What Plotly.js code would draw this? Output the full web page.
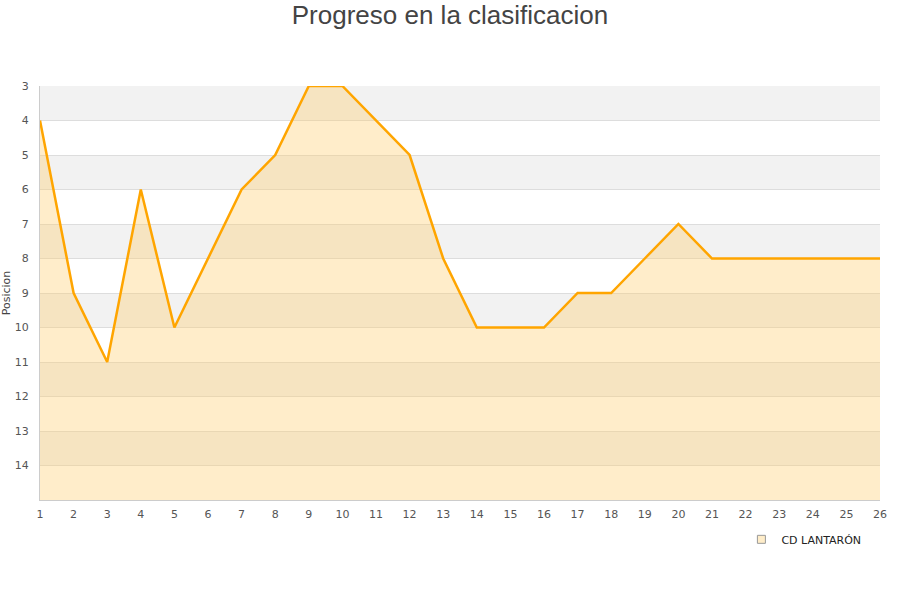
<!DOCTYPE html>
<html>
<head>
<meta charset="utf-8">
<script src="https://cdn.plot.ly/plotly-3.0.1.min.js"></script>
<style>body{margin:0;background:#fff}#chart{width:900px;height:600px}</style>
</head>
<body>
<div id="chart"></div>
<script>
const jornadas = [1,2,3,4,5,6,7,8,9,10,11,12,13,14,15,16,17,18,19,20,21,22,23,24,25,26];
const posicion = [4,9,11,6,10,8,6,5,3,3,4,5,8,10,10,10,9,9,8,7,8,8,8,8,8,8];
const equipo = 'CD LANTARÓN';
const yTicks = [3,4,5,6,7,8,9,10,11,12,13,14];
const yMin = 3, yMax = 15;

const base = {x: jornadas, y: jornadas.map(() => yMax), mode: 'lines', line: {width: 0}, hoverinfo: 'skip', showlegend: false};
const area = {x: jornadas, y: posicion, mode: 'lines', fill: 'tonexty', fillcolor: 'rgba(255,204,102,0.35)',
  line: {color: '#FFA500', width: 2.5}, showlegend: false, name: equipo};
const leg = {x: [null], y: [null], mode: 'markers', name: equipo,
  marker: {symbol: 'square', size: 8, color: '#FFEDC9', line: {color: '#999', width: 1}}};

const shapes = [];
for (let v = yMin; v < yMax; v += 2) {
  shapes.push({type: 'rect', xref: 'paper', yref: 'y', x0: 0, x1: 1, y0: v, y1: v + 1,
    fillcolor: '#F2F2F2', line: {width: 0}, layer: 'below'});
}

Plotly.newPlot('chart', [base, area, leg], {
  width: 900, height: 600,
  margin: {l: 40, r: 20, t: 86, b: 100},
  paper_bgcolor: '#fff', plot_bgcolor: '#fff',
  title: {text: 'Progreso en la clasificacion', x: 0.5, y: 0.99, yanchor: 'top',
    font: {family: 'Liberation Sans, Arial, sans-serif', size: 26, color: '#444'}},
  font: {family: 'DejaVu Sans, sans-serif', size: 11, color: '#555'},
  xaxis: {range: [1, 26], tickvals: jornadas, showgrid: false, zeroline: false,
    showline: true, linecolor: '#ccc', ticks: '', ticklen: 0, ticklabelstandoff: 4},
  yaxis: {range: [yMax, yMin], tickvals: yTicks, showgrid: true, gridcolor: '#ddd', zeroline: false,
    showline: true, linecolor: '#ccc', ticks: '', ticklabelstandoff: 8,
    title: {text: 'Posicion', font: {size: 11, color: '#444'}, standoff: 4}},
  shapes: shapes,
  showlegend: true,
  legend: {x: 0.835, y: -0.06, xanchor: 'left', yanchor: 'top', font: {size: 11, color: '#222'}, bgcolor: 'rgba(0,0,0,0)'}
}, {displayModeBar: false});
</script>
</body>
</html>
